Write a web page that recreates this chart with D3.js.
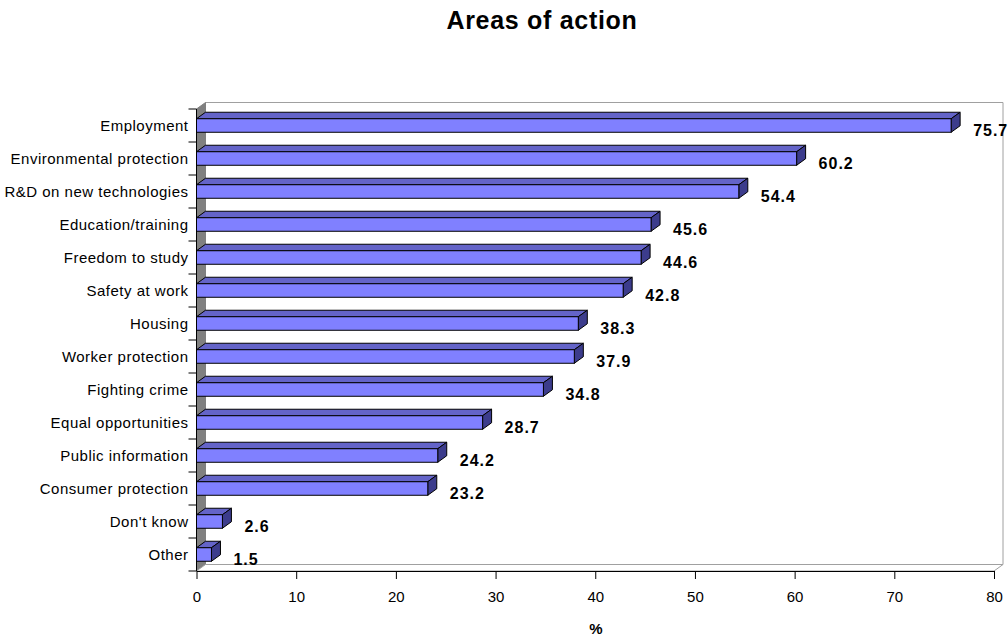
<!DOCTYPE html>
<html><head><meta charset="utf-8">
<script src="https://cdn.jsdelivr.net/npm/d3@7/dist/d3.min.js"></script>
<style>body{margin:0;background:#fff;}svg{display:block;font-family:"Liberation Sans",Arial,sans-serif;}</style>
</head><body><svg id="c" width="1008" height="636"></svg>
<script>
const categories = ["Employment","Environmental protection","R&D on new technologies","Education/training","Freedom to study","Safety at work","Housing","Worker protection","Fighting crime","Equal opportunities","Public information","Consumer protection","Don't know","Other"];
const values = [75.7,60.2,54.4,45.6,44.6,42.8,38.3,37.9,34.8,28.7,24.2,23.2,2.6,1.5];
const xTicks = [0,10,20,30,40,50,60,70,80];
const title = "Areas of action";
const xTitle = "%";

const svg = d3.select("#c");
const L = 196.5, R = 994, T = 109, B = 571, DX = 9, DY = 6.5;
const x = d3.scaleLinear().domain([0,80]).range([L,R]);
const y = d3.scaleBand().domain(categories).range([T,B]).paddingInner(0).paddingOuter(0);
const barH = y.bandwidth()*0.41;

// back wall
svg.append("path").attr("d",`M${L+DX},${T-DY}H${R+DX}V${B-DY}H${L+DX}Z`).attr("fill","#fff").attr("stroke","#a0a0a0").attr("stroke-width",1);
// left wall
svg.append("path").attr("d",`M${L},${T}L${L+DX},${T-DY}V${B-DY}L${L},${B}Z`).attr("fill","#808080").attr("stroke","#808080");
// floor
svg.append("path").attr("d",`M${L},${B}L${L+DX},${B-DY}H${R+DX}L${R},${B}Z`).attr("fill","#fff").attr("stroke","#a0a0a0");

// bars
const g = svg.append("g");
categories.forEach((c,i)=>{
  const v = values[i];
  const x0 = x(0), x1 = x(v);
  const yc = y(c) + y.bandwidth()/2;
  const y0 = yc - barH/2, y1 = yc + barH/2;
  g.append("path").attr("d",`M${x0},${y0}L${x0+DX},${y0-DY}H${x1+DX}L${x1},${y0}Z`).attr("fill","#6464C8").attr("stroke","#000").attr("stroke-width",1).attr("stroke-linejoin","round");
  g.append("path").attr("d",`M${x1},${y0}L${x1+DX},${y0-DY}V${y1-DY}L${x1},${y1}Z`).attr("fill","#3C3C8C").attr("stroke","#000").attr("stroke-width",1).attr("stroke-linejoin","round");
  g.append("rect").attr("x",x0).attr("y",y0).attr("width",x1-x0).attr("height",barH).attr("fill","#8080FF").attr("stroke","#000").attr("stroke-width",1);
  g.append("text").attr("x",x1+DX+13).attr("y",yc+4.5).attr("dy","0.35em").attr("font-size",16).attr("letter-spacing","1px").attr("font-weight","bold").attr("fill","#000").text(v.toFixed(1));
});

// left axis
svg.append("line").attr("x1",L).attr("x2",L).attr("y1",T).attr("y2",B).attr("stroke","#000");
const bounds = categories.map(c=>y(c)).concat([B]);
bounds.forEach(b=>svg.append("line").attr("x1",L-8).attr("x2",L).attr("y1",b).attr("y2",b).attr("stroke","#000"));
categories.forEach(c=>{
  svg.append("text").attr("x",L-8).attr("y",y(c)+y.bandwidth()/2).attr("dy","0.35em").attr("text-anchor","end").attr("font-size",15).attr("letter-spacing","0.5px").attr("fill","#000").text(c);
});

// bottom axis
const ax = svg.append("g").attr("transform",`translate(0,${B})`).call(d3.axisBottom(x).tickValues(xTicks).tickSize(8).tickPadding(12).tickSizeOuter(0));
ax.select(".domain").attr("stroke","#000");
ax.selectAll(".tick line").attr("stroke","#000");
ax.selectAll("text").attr("font-size",15).attr("font-family","Liberation Sans, Arial, sans-serif").attr("fill","#000");

svg.append("text").attr("x",596).attr("y",633.5).attr("text-anchor","middle").attr("font-size",15).attr("font-weight","bold").text(xTitle);
svg.append("text").attr("x",542).attr("y",29).attr("text-anchor","middle").attr("font-size",25).attr("letter-spacing","0.7px").attr("font-weight","bold").text(title);
</script></body></html>
